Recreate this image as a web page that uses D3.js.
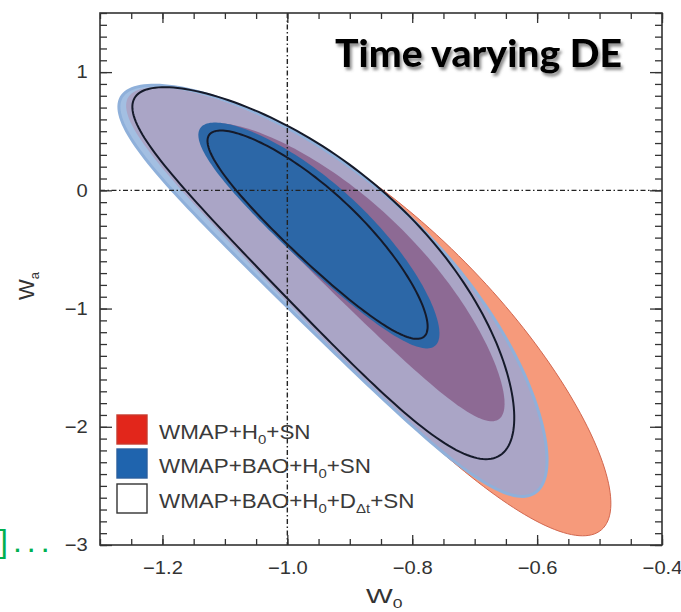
<!DOCTYPE html>
<html><head><meta charset="utf-8">
<script src="https://cdn.jsdelivr.net/npm/d3@7"></script>
<style>body{margin:0;background:#fff}</style>
</head><body>
<svg id="c" width="681" height="612"></svg>
<script>
// ---------------- data ----------------
const xTickValues = [-1.2, -1.0, -0.8, -0.6, -0.4];
const yTickValues = [-3, -2, -1, 0, 1];
const xDomain = [-1.3, -0.4];
const yDomain = [-3, 1.5];

// legend entries: [text, isSubscript]
const legendLabels = [
  [["WMAP+H", 0], ["0", 1], ["+SN", 0]],
  [["WMAP+BAO+H", 0], ["0", 1], ["+SN", 0]],
  [["WMAP+BAO+H", 0], ["0", 1], ["+D", 0], ["Δt", 1], ["+SN", 0]]
];
const legendKinds = ["red", "blue", "black"];

// confidence contours in (w0, wa): centre, major half-axis, conjugate half-axis, bend, skew, taper
const contourCenters = {
  red2:   [-0.873, -1.025], red1:   [-0.897, -0.699],
  blue2:  [-0.930, -0.860], blue1:  [-0.950, -0.386],
  black2: [-0.947, -0.704], black1: [-0.952, -0.378]
};
const contourMajor = {
  red2:   [0.379, -1.831], red1:   [0.238, -1.227],
  blue2:  [0.332, -1.675], blue1:  [0.188, -0.922],
  black2: [0.294, -1.510], black1: [0.172, -0.854]
};
const contourMinor = {
  red2:   [0.0833, 0.481], red1:   [0.0522, 0.283],
  blue2:  [0.0830, 0.459], blue1:  [0.0436, 0.248],
  black2: [0.0804, 0.437], black1: [0.0384, 0.216]
};
const contourBend  = {red2: 0.347, red1: 0.42, blue2: 0.45, blue1: 0.25, black2: 0.43, black1: 0.22};
const contourSkew  = {red2: -0.10, red1: 0.0, blue2: 0.0, blue1: 0.0, black2: 0.0, black1: 0.0};
const contourTaper = {red2: 0.10, red1: 0.0, blue2: 0.04, blue1: 0.0, black2: 0.10, black1: 0.0};

// ---------------- drawing ----------------
const L = 100, R = 662, T = 13, B = 545;
const x = d3.scaleLinear().domain(xDomain).range([L, R]);
const y = d3.scaleLinear().domain(yDomain).range([B, T]);
const svg = d3.select("#c");
const defs = svg.append("defs");
const fl = defs.append("filter").attr("id", "sh").attr("x", "-10%").attr("y", "-30%").attr("width", "130%").attr("height", "170%");
fl.append("feDropShadow").attr("dx", 2).attr("dy", 3).attr("stdDeviation", 1.6).attr("flood-color", "#666").attr("flood-opacity", 0.75);

function contour(name) {
  const c = contourCenters[name], a = contourMajor[name], b = contourMinor[name];
  const k = contourBend[name], q = contourSkew[name], e = contourTaper[name];
  return d3.range(0, 200).map(i => {
    const t = i / 200 * 2 * Math.PI, ct = Math.cos(t), st = Math.sin(t);
    const m = (1 + e * ct) * st + st * st * (k + q * ct);
    return [c[0] + a[0] * ct + b[0] * m, c[1] + a[1] * ct + b[1] * m];
  });
}
const line = d3.line().x(d => x(d[0])).y(d => y(d[1])).curve(d3.curveLinearClosed);
const P = n => line(contour(n));
defs.append("clipPath").attr("id", "clipB2").append("path").attr("d", P("blue2"));

const g = svg.append("g");
g.append("path").attr("d", P("red2")).attr("fill", "#f69a7b").attr("stroke", "#d2674f").attr("stroke-width", 1);
g.append("path").attr("d", P("blue2")).attr("fill", "#a3bfe2");
g.append("path").attr("d", P("red2")).attr("fill", "#aaa5c6").attr("clip-path", "url(#clipB2)");
g.append("path").attr("d", P("blue2")).attr("fill", "none").attr("stroke", "#8fb0da").attr("stroke-width", 3);
g.append("path").attr("d", P("red1")).attr("fill", "#8d6a94").attr("clip-path", "url(#clipB2)");
g.append("path").attr("d", P("blue1")).attr("fill", "#2c67a7");
g.append("path").attr("d", P("black2")).attr("fill", "none").attr("stroke", "#151a2a").attr("stroke-width", 2);
g.append("path").attr("d", P("black1")).attr("fill", "none").attr("stroke", "#151a2a").attr("stroke-width", 2);

// reference lines
g.append("line").attr("x1", x(-1)).attr("x2", x(-1)).attr("y1", T).attr("y2", B)
  .attr("stroke", "#222").attr("stroke-width", 1.4).attr("stroke-dasharray", "5,2.5,1.5,2.5");
g.append("line").attr("x1", L).attr("x2", R).attr("y1", y(0)).attr("y2", y(0))
  .attr("stroke", "#222").attr("stroke-width", 1.4).attr("stroke-dasharray", "5,2.5,1.5,2.5");

// axes
const font = "'Liberation Sans', Arial, sans-serif";
const xMinor = d3.range(0, 19).map(i => -1.3 + i * 0.05);
const yMinor = d3.range(0, 46).map(i => -3 + i * 0.1);
function styleAxis(sel) {
  sel.select(".domain").remove();
  sel.selectAll("line").attr("stroke", "#333").attr("stroke-width", 1.3);
  sel.selectAll("text").attr("font-family", font).attr("font-size", 18).attr("fill", "#333");
}
const axes = [
  [() => d3.axisBottom(x), `translate(0,${B})`, xMinor, xTickValues, 10, 6],
  [() => d3.axisTop(x), `translate(0,${T})`, xMinor, xTickValues, 10, 6],
  [() => d3.axisLeft(y), `translate(${L},0)`, yMinor, yTickValues, 12, 7],
  [() => d3.axisRight(y), `translate(${R},0)`, yMinor, yTickValues, 12, 7]
];
axes.forEach(([mk, tr, minor, major, ml, mn], i) => {
  svg.append("g").attr("transform", tr).call(mk().tickValues(minor).tickSize(-mn).tickFormat(() => "")).call(styleAxis);
  const a = mk().tickValues(major).tickSize(-ml);
  if (i === 0) a.tickPadding(16).tickFormat(d3.format(".1f"));
  else if (i === 2) a.tickPadding(11).tickFormat(d3.format("d"));
  else a.tickFormat(() => "");
  const gg = svg.append("g").attr("transform", tr).call(a).call(styleAxis);
  if (i === 0 || i === 2) gg.selectAll("text").attr("transform", "scale(1.12,1)");
});
svg.append("rect").attr("x", L).attr("y", T).attr("width", R - L).attr("height", B - T)
  .attr("fill", "none").attr("stroke", "#333").attr("stroke-width", 1.6);

// axis titles
const xt = svg.append("text").attr("transform", "translate(366,603) scale(1.35,1)")
  .attr("font-family", font).attr("font-size", 21).attr("fill", "#333");
xt.append("tspan").text("W");
xt.append("tspan").attr("dy", 5).attr("font-size", 13).text("0");
const yt = svg.append("text").attr("transform", "translate(34,300) rotate(-90)")
  .attr("font-family", font).attr("font-size", 22).attr("fill", "#333");
yt.append("tspan").text("W");
yt.append("tspan").attr("dy", 5).attr("font-size", 13).text("a");

// legend
const lg = svg.append("g");
const rowY = [415, 449, 484];
const sw = {red: ["#e2261b", "#c8392d"], blue: ["#1f64ae", "#2a5f9e"], black: ["#ffffff", "#333"]};
legendLabels.forEach((parts, i) => {
  const k = legendKinds[i];
  lg.append("rect").attr("x", 117).attr("y", rowY[i]).attr("width", 30).attr("height", 29)
    .attr("fill", sw[k][0]).attr("stroke", sw[k][1]).attr("stroke-width", 1.4);
  const t = lg.append("text").attr("transform", `translate(159,${rowY[i] + 24}) scale(1.15,1)`)
    .attr("font-family", font).attr("font-size", 19.5).attr("fill", "#3a3a3a");
  let sub = false;
  parts.forEach(([s, isSub]) => {
    const ts = t.append("tspan").text(s);
    if (isSub && !sub) { ts.attr("dy", 5).attr("font-size", 13); sub = true; }
    else if (!isSub && sub) { ts.attr("dy", -5); sub = false; }
    else if (isSub) ts.attr("font-size", 13);
  });
});

// title
svg.append("text").attr("x", 335).attr("y", 67).attr("font-family", "Lato, 'DejaVu Sans', sans-serif")
  .attr("font-weight", 900).attr("font-size", 37).attr("fill", "#000")
  .attr("textLength", 287).attr("lengthAdjust", "spacingAndGlyphs")
  .attr("filter", "url(#sh)").text("Time varying DE");

// slide fragment at left
svg.append("text").attr("x", -1).attr("y", 552).attr("font-family", font).attr("font-size", 32)
  .attr("fill", "#00b050").attr("letter-spacing", 5).text("]...");
</script>
</body></html>
